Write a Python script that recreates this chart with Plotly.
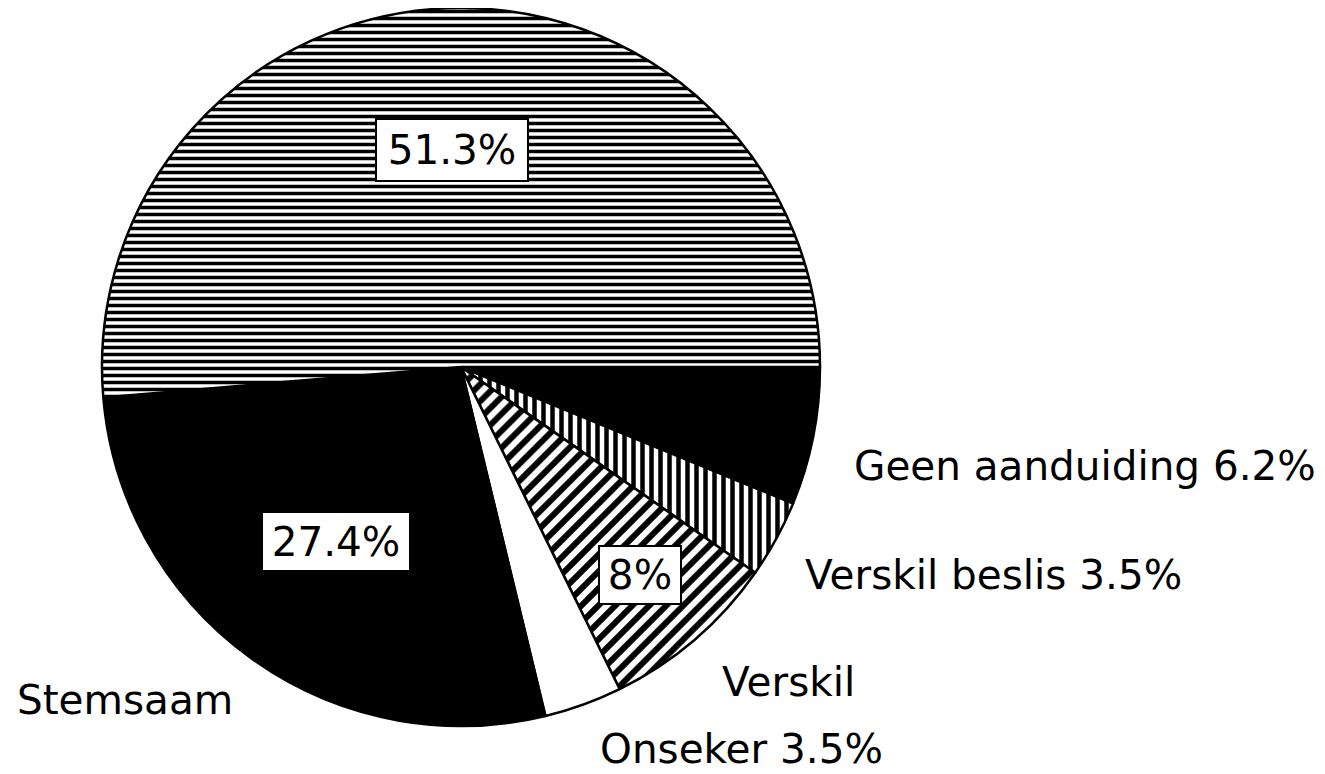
import plotly.graph_objects as go

# Data (clockwise from 3 o'clock)
categories = ["Geen aanduiding", "Verskil beslis", "Verskil", "Onseker", "Stemsaam", "Ander"]
values = [6.2, 3.5, 8.0, 3.5, 27.4, 51.3]
slice_colors = ["black", "white", "white", "white", "black", "white"]
pattern_shapes = ["", "|", "/", "", "", "-"]
pattern_sizes = [8, 9, 12, 8, 8, 7]

outside_labels = ["Geen aanduiding 6.2%", "Verskil beslis 3.5%", "Verskil", "Onseker 3.5%", "Stemsaam"]
box_labels = ["51.3%", "27.4%", "8%"]

W, H = 1325, 774
OFF = 8  # page body margin
FONT = "DejaVu Sans"
FS = 40.5

CX, CY, R = 461 - OFF, 367 - OFF, 359

fig = go.Figure()
fig.add_trace(go.Pie(
    labels=categories,
    values=values,
    sort=False,
    direction="clockwise",
    rotation=90,
    textinfo="none",
    hoverinfo="label+percent",
    showlegend=False,
    domain=dict(x=[(CX - R) / W, (CX + R) / W], y=[max(0, (H - CY - R) / H), min(1, (H - CY + R) / H)]),
    marker=dict(
        colors=slice_colors,
        line=dict(color="black", width=2.5),
        pattern=dict(
            shape=pattern_shapes,
            fgcolor="black",
            bgcolor=slice_colors,
            size=pattern_sizes,
            solidity=0.5,
        ),
    ),
))

def px(x, y):
    return (x - OFF) / W, 1 - (y - OFF) / H

annotations = []
# boxed percentage labels: (text, center x, center y, width, height) in reference pixels
boxes = [(box_labels[0], 452, 150, 150, 60), (box_labels[1], 336, 541, 146, 57), (box_labels[2], 640, 575, 80, 56)]
for t, cx, cy, bw, bh in boxes:
    ax_, ay_ = px(cx, cy)
    annotations.append(dict(
        x=ax_, y=ay_, xref="paper", yref="paper", text=t, showarrow=False,
        xanchor="center", yanchor="middle",
        font=dict(family=FONT, size=FS, color="black"),
        bgcolor="white", bordercolor="black", borderwidth=2, borderpad=0,
        width=bw, height=bh,
    ))

# outside labels: (text, left x, center y) in reference pixels
outs = [(outside_labels[0], 852, 466), (outside_labels[1], 803, 575), (outside_labels[2], 720, 682),
        (outside_labels[3], 598, 749), (outside_labels[4], 15, 700)]
for t, lx, cy in outs:
    ax_, ay_ = px(lx, cy)
    annotations.append(dict(
        x=ax_, y=ay_, xref="paper", yref="paper", text=t, showarrow=False,
        xanchor="left", yanchor="middle",
        font=dict(family=FONT, size=FS, color="black"),
    ))

fig.update_layout(
    width=W, height=H,
    margin=dict(l=0, r=0, t=0, b=0),
    paper_bgcolor="white", plot_bgcolor="white",
    annotations=annotations,
)

fig.write_html("out.html")
